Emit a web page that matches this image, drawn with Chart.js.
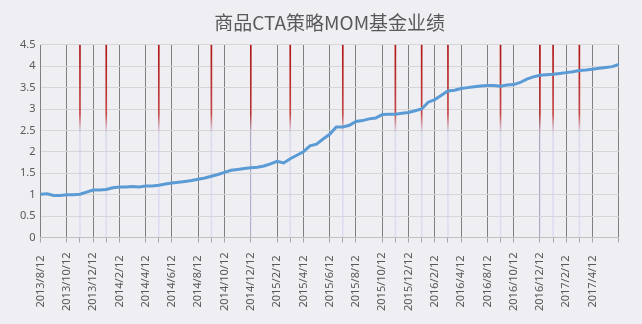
<!DOCTYPE html>
<html>
<head>
<meta charset="utf-8">
<title>商品CTA策略MOM基金业绩</title>
<script src="https://cdn.jsdelivr.net/npm/chart.js@4"></script>
<style>
    html, body { margin: 0; padding: 0; background: #efeff3; }
    #wrap { width: 642px; height: 324px; position: relative; }
</style>
</head>
<body>
<div id="wrap"><canvas id="navChart"></canvas></div>
<script>
// Axis labels (one every 2 months, 4 samples per label step)
const dateLabels = [
    '2013/8/12', '2013/10/12', '2013/12/12', '2014/2/12', '2014/4/12', '2014/6/12',
    '2014/8/12', '2014/10/12', '2014/12/12', '2015/2/12', '2015/4/12', '2015/6/12',
    '2015/8/12', '2015/10/12', '2015/12/12', '2016/2/12', '2016/4/12', '2016/8/12',
    '2016/10/12', '2016/12/12', '2017/2/12', '2017/4/12'
];
const samplesPerLabel = 4;

// Fund NAV
const navValues = [
    1.01, 1.02, 0.98, 0.98, 1.00, 1.00, 1.01, 1.06,
    1.11, 1.11, 1.12, 1.16, 1.18, 1.18, 1.19, 1.18,
    1.20, 1.20, 1.22, 1.25, 1.27, 1.29, 1.31, 1.33,
    1.36, 1.39, 1.43, 1.47, 1.52, 1.57, 1.59, 1.61,
    1.63, 1.64, 1.67, 1.72, 1.78, 1.74, 1.84, 1.92,
    2.00, 2.14, 2.18, 2.30, 2.41, 2.58, 2.58, 2.62,
    2.71, 2.73, 2.77, 2.79, 2.87, 2.88, 2.88, 2.90,
    2.92, 2.96, 3.00, 3.16, 3.22, 3.32, 3.42, 3.44,
    3.48, 3.50, 3.52, 3.54, 3.55, 3.55, 3.53, 3.56,
    3.57, 3.62, 3.70, 3.75, 3.79, 3.80, 3.81, 3.83,
    3.85, 3.87, 3.90, 3.91, 3.93, 3.95, 3.97, 3.99,
    4.04
];

// Sample positions of the red marker lines
const signalSteps = [6, 10, 18, 26, 32, 38, 46, 54, 58, 62, 70, 76, 78, 82];

const yMax = 4.5;
const yStep = 0.5;

const categories = navValues.map((v, i) =>
    i % samplesPerLabel === 0 ? (dateLabels[i / samplesPerLabel] || '') : '');
const signalData = navValues.map((v, i) => signalSteps.includes(i) ? yMax : null);

// Excel-like background for the whole canvas
const backgroundPlugin = {
    id: 'bg',
    beforeDraw(chart) {
        const ctx = chart.ctx;
        ctx.save();
        ctx.fillStyle = '#efeff3';
        ctx.fillRect(0, 0, chart.width, chart.height);
        ctx.restore();
    }
};

function signalGradient(context) {
    const chart = context.chart;
    const area = chart.chartArea;
    if (!area) return '#b81818';
    const g = chart.ctx.createLinearGradient(0, area.top, 0, area.bottom);
    g.addColorStop(0, 'rgba(175,20,20,1)');
    g.addColorStop(0.36, 'rgba(190,40,40,0.85)');
    g.addColorStop(0.46, 'rgba(205,205,235,0.6)');
    g.addColorStop(1, 'rgba(210,210,240,0.6)');
    return g;
}

const ctx = document.getElementById('navChart').getContext('2d');
new Chart(ctx, {
    data: {
        labels: categories,
        datasets: [
            {
                type: 'line',
                label: '基金净值',
                data: navValues,
                borderColor: '#5b9bd5',
                borderWidth: 3,
                pointRadius: 0,
                tension: 0,
                order: 0
            },
            {
                type: 'bar',
                label: '信号',
                data: signalData,
                backgroundColor: signalGradient,
                barThickness: 1,
                order: 1
            }
        ]
    },
    options: {
        responsive: true,
        maintainAspectRatio: false,
        animation: false,
        layout: { padding: { left: 15, right: 20, top: 0, bottom: 3 } },
        plugins: {
            legend: { display: false },
            tooltip: { enabled: false },
            title: {
                display: true,
                fullSize: false,
                text: '商品CTA策略MOM基金业绩',
                color: '#595959',
                font: { family: '"Noto Sans CJK SC", sans-serif', size: 19, weight: 'normal' },
                padding: { top: 11, bottom: 11 }
            }
        },
        scales: {
            x: {
                type: 'category',
                offset: false,
                grid: {
                    offset: false,
                    color: c => c.index % samplesPerLabel === 0 ? '#808080' : 'rgba(0,0,0,0)',
                    tickColor: c => (c.index % samplesPerLabel === 0 || signalSteps.includes(c.index))
                        ? '#a6a6a6' : 'rgba(0,0,0,0)',
                    lineWidth: 1,
                    tickLength: 5
                },
                border: { color: '#bfbfbf' },
                ticks: {
                    autoSkip: false,
                    maxRotation: 90,
                    minRotation: 90,
                    padding: 10,
                    color: '#595959',
                    font: { family: '"Noto Sans", sans-serif', size: 11 },
                    callback: function (value) {
                        const s = this.getLabelForValue(value);
                        // pad shorter labels so they sit centred like Excel does
                        return s && s.length < 10 ? s + ' ' : s;
                    }
                }
            },
            y: {
                min: 0,
                max: yMax,
                ticks: {
                    stepSize: yStep,
                    padding: 5,
                    color: '#595959',
                    font: { family: '"Noto Sans", sans-serif', size: 11 },
                    callback: value => String(+value.toFixed(1))
                },
                grid: { color: '#d6d6d6', drawTicks: false },
                border: { display: false }
            }
        }
    },
    plugins: [backgroundPlugin]
});
</script>
</body>
</html>
